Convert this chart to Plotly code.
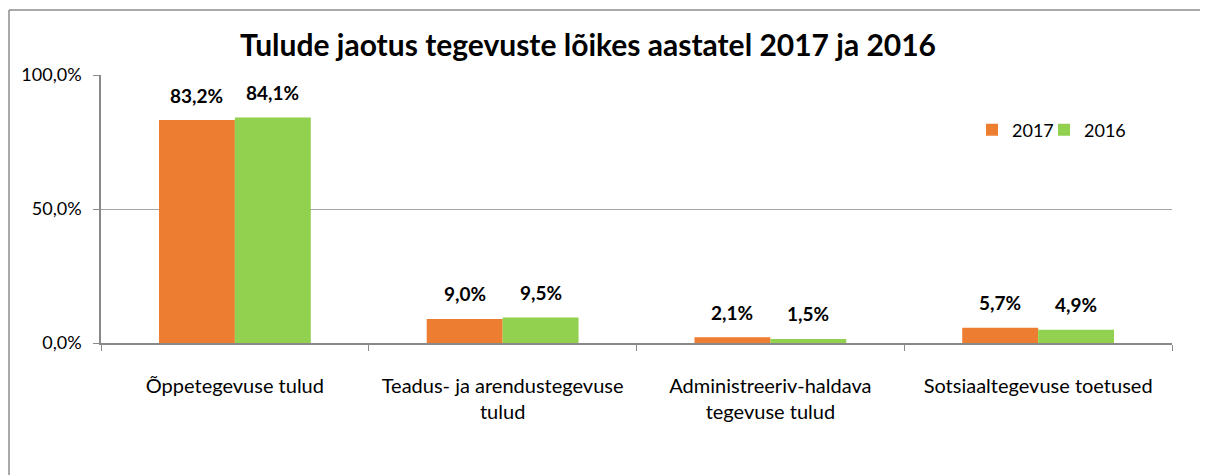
import plotly.graph_objects as go

categories = ["Õppetegevuse tulud", "Teadus- ja arendustegevuse<br>tulud",
              "Administreeriv-haldava<br>tegevuse tulud", "Sotsiaaltegevuse toetused"]
values_2017 = [83.2, 9.0, 2.1, 5.7]
values_2016 = [84.1, 9.5, 1.5, 4.9]
series_names = ["2017", "2016"]
y_tickvals = [0, 50, 100]
y_ticktext = ["0,0%", "50,0%", "100,0%"]
title_text = "Tulude jaotus tegevuste lõikes aastatel 2017 ja 2016"

FONT = "Lato, 'Open Sans', sans-serif"
COLORS = ["#ED7D31", "#92D050"]

W, H = 1200, 467
L, R, T, B = 93, 36, 67, 132
BARGAP = 0.433
plot_w = W - L - R
plot_h = H - T - B
bar_w = plot_w / len(categories) * (1 - BARGAP) / 2

def fmt(v):
    return f"{v:.1f}".replace(".", ",") + "%"

fig = go.Figure()
series = [values_2017, values_2016]
legend_ids = ["legend", "legend2"]
for name, vals, color, lg in zip(series_names, series, COLORS, legend_ids):
    fig.add_trace(go.Bar(
        x=categories, y=vals, name=name, legend=lg,
        marker=dict(color=color, line=dict(width=0)),
    ))

# data labels above each bar
for k, vals in enumerate(series):
    shift = (k - 0.5) * bar_w
    for cat, v in zip(categories, vals):
        fig.add_annotation(x=cat, y=v, text=f"<b>{fmt(v)}</b>", showarrow=False,
                           xshift=shift, yshift=25, yanchor="middle", xanchor="center",
                           font=dict(family=FONT, size=19, color="#000000"))

leg_y = (plot_h - (130 - 75)) / plot_h
leg_common = dict(orientation="h", y=leg_y, xanchor="left", yanchor="middle",
                  font=dict(size=18, family=FONT), bgcolor="rgba(0,0,0,0)")

fig.update_layout(
    width=W, height=H,
    margin=dict(l=L, r=R, t=T, b=B),
    paper_bgcolor="white", plot_bgcolor="white",
    barmode="group", bargap=BARGAP, bargroupgap=0,
    font=dict(family=FONT, color="#000000"),
    title=dict(text=f"<b>{title_text}</b>", x=580 / W, xref="container", xanchor="center",
               y=1 - 37 / H, yanchor="middle", font=dict(size=30, family=FONT, color="#000000")),
    legend=dict(x=(964 - L) / plot_w, **leg_common),
    legend2=dict(x=(1036 - L) / plot_w, **leg_common),
    xaxis=dict(type="category", tickson="boundaries", ticks="outside", ticklen=6,
               tickcolor="#898989", showline=True, linecolor="#898989", linewidth=1.5,
               tickfont=dict(size=20, family=FONT), showgrid=False, ticklabelstandoff=24),
    yaxis=dict(range=[0, 100], tickvals=y_tickvals, ticktext=y_ticktext, ticks="outside",
               ticklen=6, tickcolor="#898989", showline=True, linecolor="#898989", linewidth=1.5,
               showgrid=True, gridcolor="#a6a6a6", gridwidth=1.2, zeroline=False,
               tickfont=dict(size=18, family=FONT), ticklabelstandoff=8),
    showlegend=True,
)

# outer chart frame (top and left edges visible)
fx0 = (1 - L) / plot_w
fy1 = (plot_h + T - 2) / plot_h
fig.add_shape(type="line", xref="paper", yref="paper", x0=fx0, x1=(W - L) / plot_w,
              y0=fy1, y1=fy1, line=dict(color="#8c8c8c", width=1.5), layer="below")
fig.add_shape(type="line", xref="paper", yref="paper", x0=fx0, x1=fx0,
              y0=-B / plot_h, y1=fy1, line=dict(color="#8c8c8c", width=1.5), layer="below")

fig.write_html("out.html",
               post_script="document.documentElement.style.overflow='hidden';"
                           "document.body.style.overflow='hidden';")
